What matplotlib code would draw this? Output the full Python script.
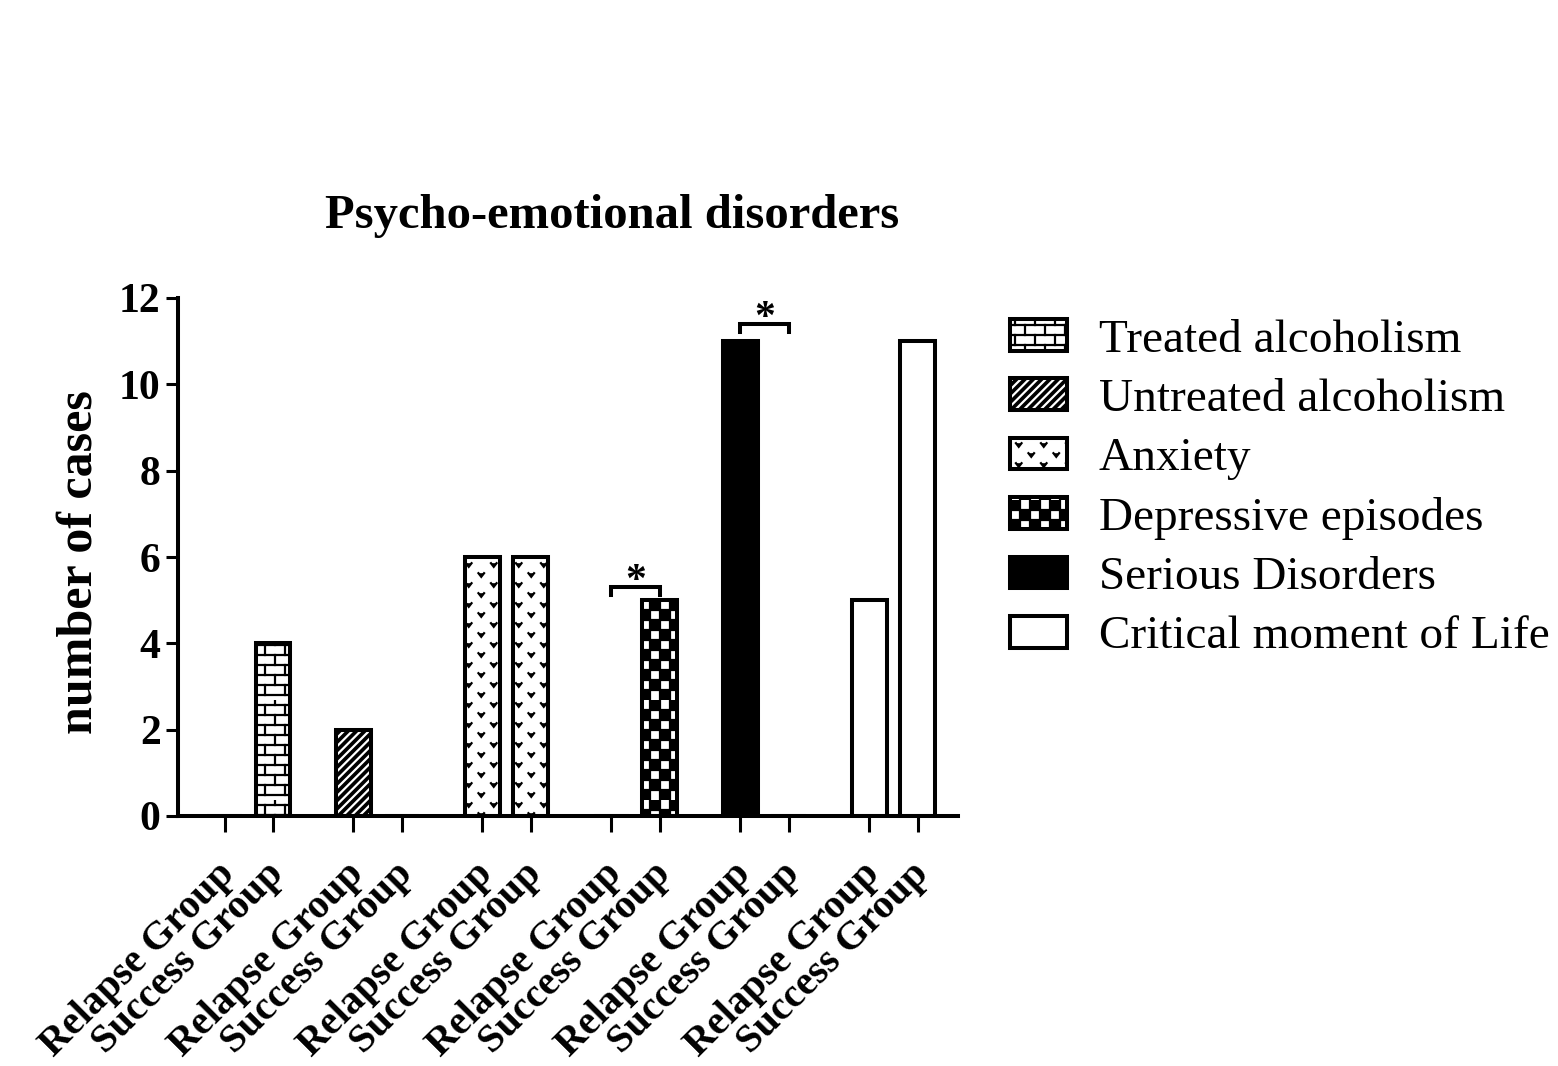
import warnings
warnings.filterwarnings('ignore')
import numpy as np
import matplotlib
matplotlib.use('Agg')
import matplotlib.pyplot as plt
import matplotlib.hatch as mhatch
import matplotlib.transforms as mtrans
from matplotlib.path import Path
from matplotlib.patches import Patch

# ---------------- data ----------------
categories = ['Treated alcoholism', 'Untreated alcoholism', 'Anxiety',
              'Depressive episodes', 'Serious Disorders', 'Critical moment of Life']
groups = ['Relapse Group', 'Success Group']
relapse = [0, 2, 6, 0, 11, 5]
success = [4, 0, 6, 5, 0, 11]
sig_categories = [3, 4]
sig_levels = [5.3, 11.4]
sig_labels = ['*', '*']
yticks = [0, 2, 4, 6, 8, 10, 12]
title = 'Psycho-emotional disorders'
ylabel = 'number of cases'


# ---------------- custom hatches ----------------
class _SegHatch(mhatch.HatchPatternBase):
    key = None

    def __init__(self, hatch, density):
        self.on = self.key in hatch
        self.verts, self.codes = ([], []) if not self.on else self.build()
        self.num_vertices = len(self.verts)

    def set_vertices_and_codes(self, vertices, codes):
        vertices[:] = np.asarray(self.verts, float)
        codes[:] = np.asarray(self.codes)


class BrickHatch(_SegHatch):
    key = 'B'

    def build(self):
        rows, cols = 10, 5
        v, c = [], []
        for i in range(rows):
            y = (i + 0.5) / rows
            v += [(0, y), (1, y)]
            c += [Path.MOVETO, Path.LINETO]
            off = 0.5 / cols if i % 2 else 0.0
            for j in range(cols):
                x = (j + 0.25) / cols + off
                v += [(x, y), (x, y + 1 / rows)]
                c += [Path.MOVETO, Path.LINETO]
        return v, c


class CheckerHatch(_SegHatch):
    key = 'C'

    def build(self):
        n = 10
        s = 1 / n
        v, c = [], []
        for i in range(n):
            for j in range(n):
                if (i + j) % 2 == 0:
                    x, y = i * s, j * s
                    v += [(x, y), (x + s, y), (x + s, y + s), (x, y + s), (x, y)]
                    c += [Path.MOVETO, Path.LINETO, Path.LINETO, Path.LINETO,
                          Path.CLOSEPOLY]
        return v, c


class VHatch(_SegHatch):
    key = 'V'

    def build(self):
        cols, rows = 8, 5
        w, h = 0.028, 0.018
        v, c = [], []
        for i in range(cols):
            x = (i + 0.5) / cols
            for r in range(rows):
                y = (r + 0.25 + 0.5 * (i % 2)) / rows
                v += [(x - w, y + h), (x, y - h), (x + w, y + h)]
                c += [Path.MOVETO, Path.LINETO, Path.LINETO]
        return v, c


mhatch._hatch_types.extend([BrickHatch, CheckerHatch, VHatch])

# ---------------- style ----------------
plt.rcParams['font.family'] = ['Liberation Serif', 'DejaVu Serif']
plt.rcParams['hatch.linewidth'] = 1.6

styles = [
    dict(face='white', hatch='B', hcolor='black'),
    dict(face='black', hatch='////', hcolor='white'),
    dict(face='white', hatch='V', hcolor='black'),
    dict(face='white', hatch='C', hcolor='black'),
    dict(face='black', hatch=None, hcolor='black'),
    dict(face='white', hatch=None, hcolor='black'),
]
LW = 2.9

fig = plt.figure(figsize=(15.58, 10.66), dpi=100)
ax = fig.add_axes([178 / 1558, 1 - 816 / 1066, 780 / 1558, 518 / 1066])

group_step = 2.66
x_rel = np.arange(len(categories)) * group_step
x_suc = x_rel + 1.0
width = 0.72

handles = []
for i, st in enumerate(styles):
    xs = [x_rel[i], x_suc[i]]
    hs = [relapse[i], success[i]]
    ax.bar(xs, hs, width, color=st['face'], edgecolor=st['hcolor'],
           hatch=st['hatch'], linewidth=0, zorder=2)
    ax.bar(xs, hs, width, facecolor='none', edgecolor='black',
           linewidth=LW, zorder=3)
    h1 = Patch(facecolor=st['face'], edgecolor=st['hcolor'],
               hatch=st['hatch'], linewidth=0)
    h2 = Patch(facecolor='none', edgecolor='black', linewidth=LW)
    handles.append((h1, h2))

# significance brackets
for k, lvl, lab in zip(sig_categories, sig_levels, sig_labels):
    x1, x2 = x_rel[k], x_suc[k]
    ax.plot([x1, x1, x2, x2], [lvl - 0.18, lvl, lvl, lvl - 0.18],
            color='black', lw=LW, clip_on=False, zorder=4,
            solid_joinstyle='miter')
    ax.text((x1 + x2) / 2, lvl - 0.32, lab, ha='center', va='bottom',
            fontsize=30, fontweight='bold', clip_on=False)

ax.set_xlim(x_rel[0] - 0.96, x_suc[-1] + 0.83)
ax.set_ylim(0, 12)
ax.set_yticks(yticks)
ax.set_yticklabels([str(t) for t in yticks], fontsize=30, fontweight='bold')

xt = np.ravel(np.column_stack([x_rel, x_suc]))
ax.set_xticks(xt)
ax.set_xticklabels(groups * len(categories), rotation=45, ha='right',
                   va='center', rotation_mode='anchor', fontsize=29,
                   fontweight='bold')

for s in ['top', 'right']:
    ax.spines[s].set_visible(False)
for s in ['left', 'bottom']:
    ax.spines[s].set_linewidth(LW)
ax.tick_params(axis='y', length=8.6, width=2.2, pad=4)
ax.tick_params(axis='x', length=11.5, width=2.2, pad=22)

shift = mtrans.ScaledTranslation(5 / 100, -6 / 100, fig.dpi_scale_trans)
for lab in ax.get_xticklabels():
    lab.set_transform(lab.get_transform() + shift)

ax.set_ylabel(ylabel, fontsize=36, fontweight='bold')
ax.yaxis.set_label_coords(-0.097, 0.49)

fig.text(612 / 1558, 1 - 216 / 1066, title, ha='center', va='center',
         fontsize=35, fontweight='bold')

fig.legend(handles, categories, loc='upper left',
           bbox_to_anchor=(1010 / 1558, 1 - 319 / 1066), frameon=False,
           fontsize=34, handlelength=1.2, handleheight=0.66,
           handletextpad=0.68, labelspacing=0.355, borderpad=0,
           borderaxespad=0)

fig.savefig('out.png', dpi=100)
